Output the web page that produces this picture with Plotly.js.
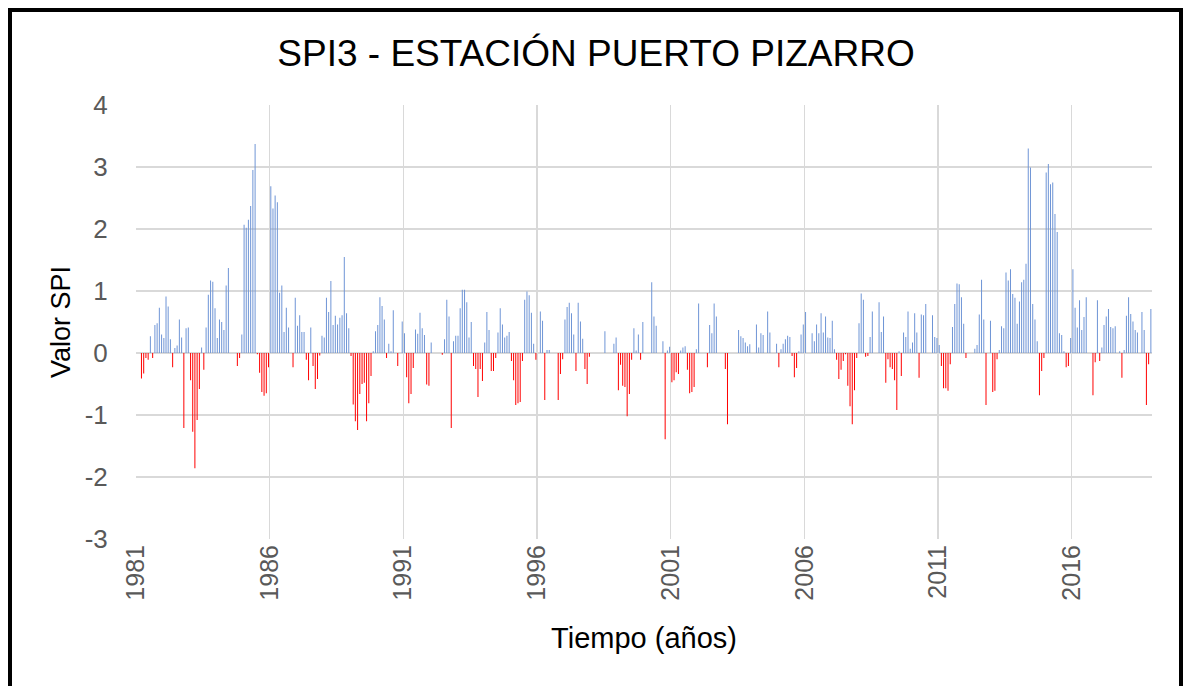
<!DOCTYPE html>
<html>
<head>
<meta charset="utf-8">
<script src="https://cdn.plot.ly/plotly-3.0.1.min.js"></script>
<style>
  html, body { margin: 0; padding: 0; background: #fff; }
  #wrap { position: relative; width: 1192px; height: 686px; overflow: hidden; }
  #chart { position: absolute; left: 0; top: 0; width: 1192px; height: 686px; }
  #frame { position: absolute; left: 8px; top: 8px; width: 1175px; height: 720px;
           border: 4px solid #000; box-sizing: border-box; pointer-events: none; }
</style>
</head>
<body>
<div id="wrap">
  <div id="chart"></div>
  <div id="frame"></div>
</div>
<script>
// Monthly SPI3 values, Jan 1981 .. Dec 2018 (456 months)
const startYear = 1981;
const spi3_1981_1985 = [
  0, 0, -0.41, -0.33, -0.08, -0.11, 0.27, -0.08, 0.45, 0.48, 0.73, 0.30,
  0.24, 0.91, 0.75, 0.22, -0.23, 0.08, 0.12, 0.54, 0.25, -1.21, 0.40, 0.41,
  -0.44, -1.27, -1.86, -1.08, -0.58, 0.09, -0.27, 0.41, 0.94, 1.17, 1.15, 0.72,
  0.24, 0.54, 0.50, 0.37, 1.09, 1.37, 0, 0, 0, -0.21, -0.08, 0.30,
  2.07, 2.02, 2.15, 2.37, 2.95, 3.37, -0.02, -0.32, -0.63, -0.69, -0.65, -0.23
];
const spi3_1986_1990 = [
  2.69, 2.33, 2.54, 2.43, 0.97, 1.09, 0.34, 0.73, 0.41, 0, -0.23, 0.89,
  0.44, 0.61, 0.34, 0.34, -0.11, -0.44, 0.41, -0.21, -0.58, -0.42, -0.04, 0.28,
  0.25, 0.89, 0.66, 1.16, 0.45, 0.60, 0.46, 0.57, 0.61, 1.55, 0.64, 0.40,
  -0.05, -0.83, -1.10, -1.24, -0.66, -0.50, -0.48, -1.10, -0.81, -0.37, 0.03, 0.35,
  0.45, 0.90, 0.76, 0.54, -0.08, 0.15, 0.03, 0.69, 0, -0.21, 0, 0.51
];
const spi3_1991_1995 = [
  0.32, -0.39, -0.81, -0.66, -0.24, 0.38, 0.31, 0.65, 0.40, 0.29, -0.51, -0.53,
  0.17, 0, 0, 0, 0, -0.03, 0.22, 0.86, 0.59, -1.21, 0.19, 0.28,
  0.28, 0.72, 1.02, 1.02, 0.82, 0.25, 0.50, -0.21, -0.26, -0.71, -0.26, -0.45,
  0.17, 0.66, 0.37, -0.29, -0.29, -0.08, 0.33, 0.72, 0.46, 0.25, 0.28, 0.34,
  -0.13, -0.44, -0.84, -0.81, -0.79, -0.13, 0.86, 0.99, 0.93, 0.65, 0.15, -0.11
];
const spi3_1996_2000 = [
  0, 0.67, 0.52, -0.76, 0.05, 0.05, 0, 0, 0, -0.76, -0.34, -0.10,
  0.54, 0.74, 0.81, 0.64, 0.30, -0.29, 0.81, 0.51, 0.23, -0.26, -0.50, -0.06,
  0, 0, 0, 0, 0, 0, 0.35, 0, 0, 0, 0.15, 0.25,
  -0.60, -0.19, -0.53, -0.55, -1.02, -0.66, -0.11, 0.40, 0.04, 0.30, -0.11, 0.50,
  0, 0, 0, 1.14, 0.59, 0.44, 0, 0, 0.19, -1.39, 0.04, 0.10
];
const spi3_2001_2005 = [
  -0.47, -0.44, -0.31, -0.34, 0.04, 0.09, 0.11, -0.27, -0.65, -0.63, -0.55, 0.06,
  0.80, 0, 0, 0, -0.23, 0.45, 0.32, 0.80, 0.59, 0, 0, 0,
  -0.26, -1.15, 0, 0, 0, 0, 0.37, 0.27, 0.24, 0.17, 0.11, 0.14,
  0, 0, 0.46, 0.09, 0.32, 0.29, 0, 0.67, 0.33, 0, 0, 0.15,
  -0.23, 0.06, 0.15, 0.22, 0.28, 0.26, -0.05, -0.39, -0.24, 0.03, 0.30, 0.46
];
const spi3_2006_2010 = [
  0.66, 0, 0, 0.32, 0.19, 0.46, 0.32, 0.64, 0.33, 0.59, 0.25, 0.24,
  0.52, 0.06, -0.11, -0.42, -0.27, -0.13, -0.02, -0.53, -0.86, -1.15, -0.60, -0.08,
  0.48, 0.96, 0.86, -0.06, -0.05, 0.26, 0.67, 0, 0, 0.82, 0.34, 0.59,
  -0.48, -0.10, -0.23, -0.26, -0.44, -0.92, 0.03, -0.37, 0.33, 0.26, 0.67, 0.07,
  0.17, 0.64, 0.33, -0.40, 0.62, 0.61, 0.79, 0, 0, 0.61, 0.26, 0.24
];
const spi3_2011_2015 = [
  0.13, -0.21, -0.57, -0.57, -0.61, -0.18, 0.42, 0.79, 1.12, 1.11, 0.90, 0.47,
  -0.08, 0, 0, 0, 0.07, 0.13, 0.62, 1.18, 0.54, -0.84, 0, 0.52,
  -0.63, -0.61, -0.10, 0.05, 0.43, 0.40, 1.30, 1.17, 1.35, 0.95, 0.89, 0.47,
  0.83, 1.14, 1.18, 1.44, 3.30, 2.99, 0.79, 0.54, 0.19, -0.68, -0.29, -0.08,
  2.91, 3.05, 2.72, 2.75, 2.24, 1.95, 0.32, 0.29, 0.03, -0.23, -0.21, 0.24
];
const spi3_2016_2018 = [
  1.35, 0.73, 0.41, 0.85, 0.37, 0.58, 0.90, 0, 0, -0.68, -0.15, 0.85,
  -0.13, 0.09, 0.45, 0.59, 0.71, 0.42, 0.40, 0.43, 0, 0.03, -0.40, 0.05,
  0.60, 0.90, 0.63, 0.51, 0.37, 0.33, 0, 0.66, 0.37, -0.84, -0.18, 0.71
];
const tickYears = ['1981', '1986', '1991', '1996', '2001', '2006', '2011', '2016'];
const yTickValues = [-3, -2, -1, 0, 1, 2, 3, 4];
const yTickLabels = ['-3', '-2', '-1', '0', '1', '2', '3', '4'];

const spiValues = [].concat(spi3_1981_1985, spi3_1986_1990, spi3_1991_1995,
  spi3_1996_2000, spi3_2001_2005, spi3_2006_2010, spi3_2011_2015, spi3_2016_2018);

// Month categories (dates) for each value
const months = spiValues.map(function (v, i) {
  const y = startYear + Math.floor(i / 12);
  const m = (i % 12) + 1;
  return y + '-' + (m < 10 ? '0' + m : m) + '-01';
});

const BLUE = '#6f95d6';
const RED = '#ff0000';
const colors = spiValues.map(function (v) { return v >= 0 ? BLUE : RED; });

const monthMs = 30.44 * 24 * 3600 * 1000;
const font = 'Liberation Sans, Arial, sans-serif';

const trace = {
  type: 'bar',
  x: months,
  y: spiValues,
  xperiod: 'M1',
  xperiodalignment: 'middle',
  width: spiValues.map(function () { return monthMs * 0.45; }),
  marker: { color: colors, line: { width: 0 } },
  hoverinfo: 'x+y'
};

const layout = {
  width: 1192,
  height: 686,
  margin: { l: 136, r: 40, t: 105, b: 147, pad: 0 },
  paper_bgcolor: '#ffffff',
  plot_bgcolor: '#ffffff',
  showlegend: false,
  title: {
    text: 'SPI3 - ESTACIÓN PUERTO PIZARRO',
    font: { family: font, size: 37, color: '#000000' },
    x: 0.5, xref: 'container', xanchor: 'center',
    y: 1 - 53 / 686, yref: 'container', yanchor: 'middle'
  },
  xaxis: {
    type: 'date',
    range: [startYear + '-01-01', (startYear + 38) + '-01-01'],
    tickvals: tickYears.map(function (y) { return y + '-01-01'; }),
    ticktext: tickYears,
    tickangle: -90,
    tickfont: { family: font, size: 25, color: '#595959' },
    showgrid: true,
    gridcolor: '#d9d9d9',
    gridwidth: 1.3,
    showline: false,
    zeroline: false,
    ticks: '',
    automargin: false,
    title: { text: 'Tiempo (años)', font: { family: font, size: 29, color: '#000000' }, standoff: 28 }
  },
  yaxis: {
    range: [-3, 4],
    tickvals: yTickValues,
    ticktext: yTickLabels,
    tickfont: { family: font, size: 26, color: '#595959' },
    showgrid: true,
    gridcolor: '#d9d9d9',
    gridwidth: 1.3,
    zeroline: false,
    showline: false,
    ticks: 'outside',
    ticklen: 22,
    tickcolor: 'rgba(0,0,0,0)',
    automargin: false,
    title: { text: 'Valor SPI', font: { family: font, size: 27, color: '#000000' }, standoff: 6 }
  }
};

Plotly.newPlot('chart', [trace], layout, { displayModeBar: false, staticPlot: true });
</script>
</body>
</html>
